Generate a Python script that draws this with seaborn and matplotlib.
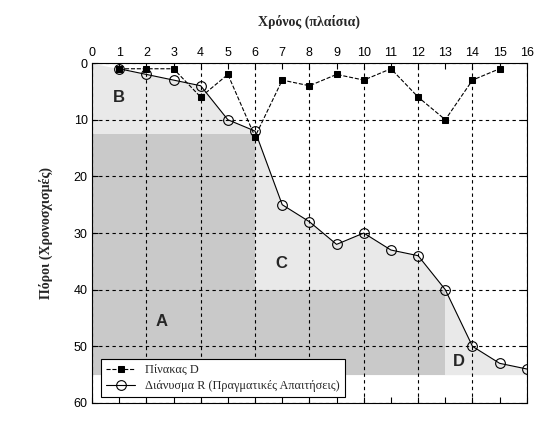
import numpy as np
import pandas as pd
import matplotlib
matplotlib.use("Agg")
import matplotlib.pyplot as plt
import seaborn as sns
from matplotlib.ticker import MultipleLocator, FixedLocator, FormatStrFormatter

# Data
frames = [1, 2, 3, 4, 5, 6, 7, 8, 9, 10, 11, 12, 13, 14, 15, 16]
vector_r = [1, 2, 3, 4, 10, 12, 25, 28, 32, 30, 33, 34, 40, 50, 53, 54]
table_frames = [1, 2, 3, 4, 5, 6, 7, 8, 9, 10, 11, 12, 13, 14, 15]
table_d = [1, 1, 1, 6, 2, 13, 3, 4, 2, 3, 1, 6, 10, 3, 1]

# dark region A (step outline)
area_a_edges = [0, 6, 13]
area_a_tops = [12.5, 40, 40]
area_floor = 55

region_labels = ["A", "B", "C", "D"]
region_x = [2.55, 1.0, 6.95, 13.5]
region_y = [45.6, 6.0, 35.3, 52.6]

sns.set_theme(style="white")
plt.rcParams['font.family'] = ['Liberation Sans', 'DejaVu Sans']

fig = plt.figure(figsize=(5.54, 4.33), dpi=100)
ax = fig.add_axes([0.166, 0.0693, 0.785, 0.785])

# shaded regions
ax.fill_between([0] + frames, [0] + vector_r, area_floor,
                color='#e9e9e9', linewidth=0, zorder=0.1)
ax.fill_between(area_a_edges, area_a_tops, area_floor, step='post',
                color='#c9c9c9', linewidth=0, zorder=0.2)

df_d = pd.DataFrame({'frame': table_frames, 'val': table_d})
df_r = pd.DataFrame({'frame': frames, 'val': vector_r})

sns.lineplot(data=df_d, x='frame', y='val', ax=ax, color='black',
             linestyle='--', linewidth=0.8, marker='s', markersize=4.5,
             markerfacecolor='black', markeredgecolor='black',
             label='Πίνακας D')
sns.lineplot(data=df_r, x='frame', y='val', ax=ax, color='black',
             linestyle='-', linewidth=0.8, marker='o', markersize=7,
             markerfacecolor='none', markeredgecolor='black',
             markeredgewidth=0.8,
             label='Διάνυσμα R (Πραγματικές Απαιτήσεις)')

for lab, lx, ly in zip(region_labels, region_x, region_y):
    ax.text(lx, ly, lab, fontsize=12, fontweight='bold', ha='center',
            va='center', family=['Liberation Sans', 'DejaVu Sans'])

ax.set_xlim(0, 16)
ax.set_ylim(60, 0)
ax.xaxis.set_major_locator(MultipleLocator(2))
ax.xaxis.set_minor_locator(FixedLocator(np.arange(1, 16, 2)))
ax.xaxis.set_minor_formatter(FormatStrFormatter('%d'))
ax.yaxis.set_major_locator(MultipleLocator(10))
ax.xaxis.tick_top()
ax.xaxis.set_label_position('top')
ax.tick_params(axis='both', which='both', direction='in', length=4,
               width=0.8, colors='black', labelsize=9,
               top=True, bottom=True, left=True, right=True,
               labeltop=True, labelbottom=False, pad=3)
ax.tick_params(axis='x', which='minor', length=4)

ax.set_axisbelow(True)
ax.grid(True, which='major', color='black', linestyle='--',
        linewidth=0.8, dashes=(3, 3))
for s in ax.spines.values():
    s.set_color('black')
    s.set_linewidth(0.8)

ax.set_xlabel('Χρόνος (πλαίσια)', fontsize=10, fontweight='bold',
              family=['Liberation Serif', 'DejaVu Serif'], labelpad=15)
ax.set_ylabel('Πόροι (Χρονοσχισμές)', fontsize=10, fontweight='bold',
              family=['Liberation Serif', 'DejaVu Serif'], labelpad=15)

leg = ax.legend(loc='lower left', bbox_to_anchor=(0.021, 0.018),
                borderaxespad=0, frameon=True, fancybox=False,
                edgecolor='black', framealpha=1, handlelength=2.4,
                handletextpad=0.8,
                prop={'family': ['Liberation Serif', 'DejaVu Serif'],
                      'size': 8.8},
                borderpad=0.4, labelspacing=0.3)
leg.get_frame().set_linewidth(0.8)

fig.savefig('out.png', dpi=100, facecolor='white')
